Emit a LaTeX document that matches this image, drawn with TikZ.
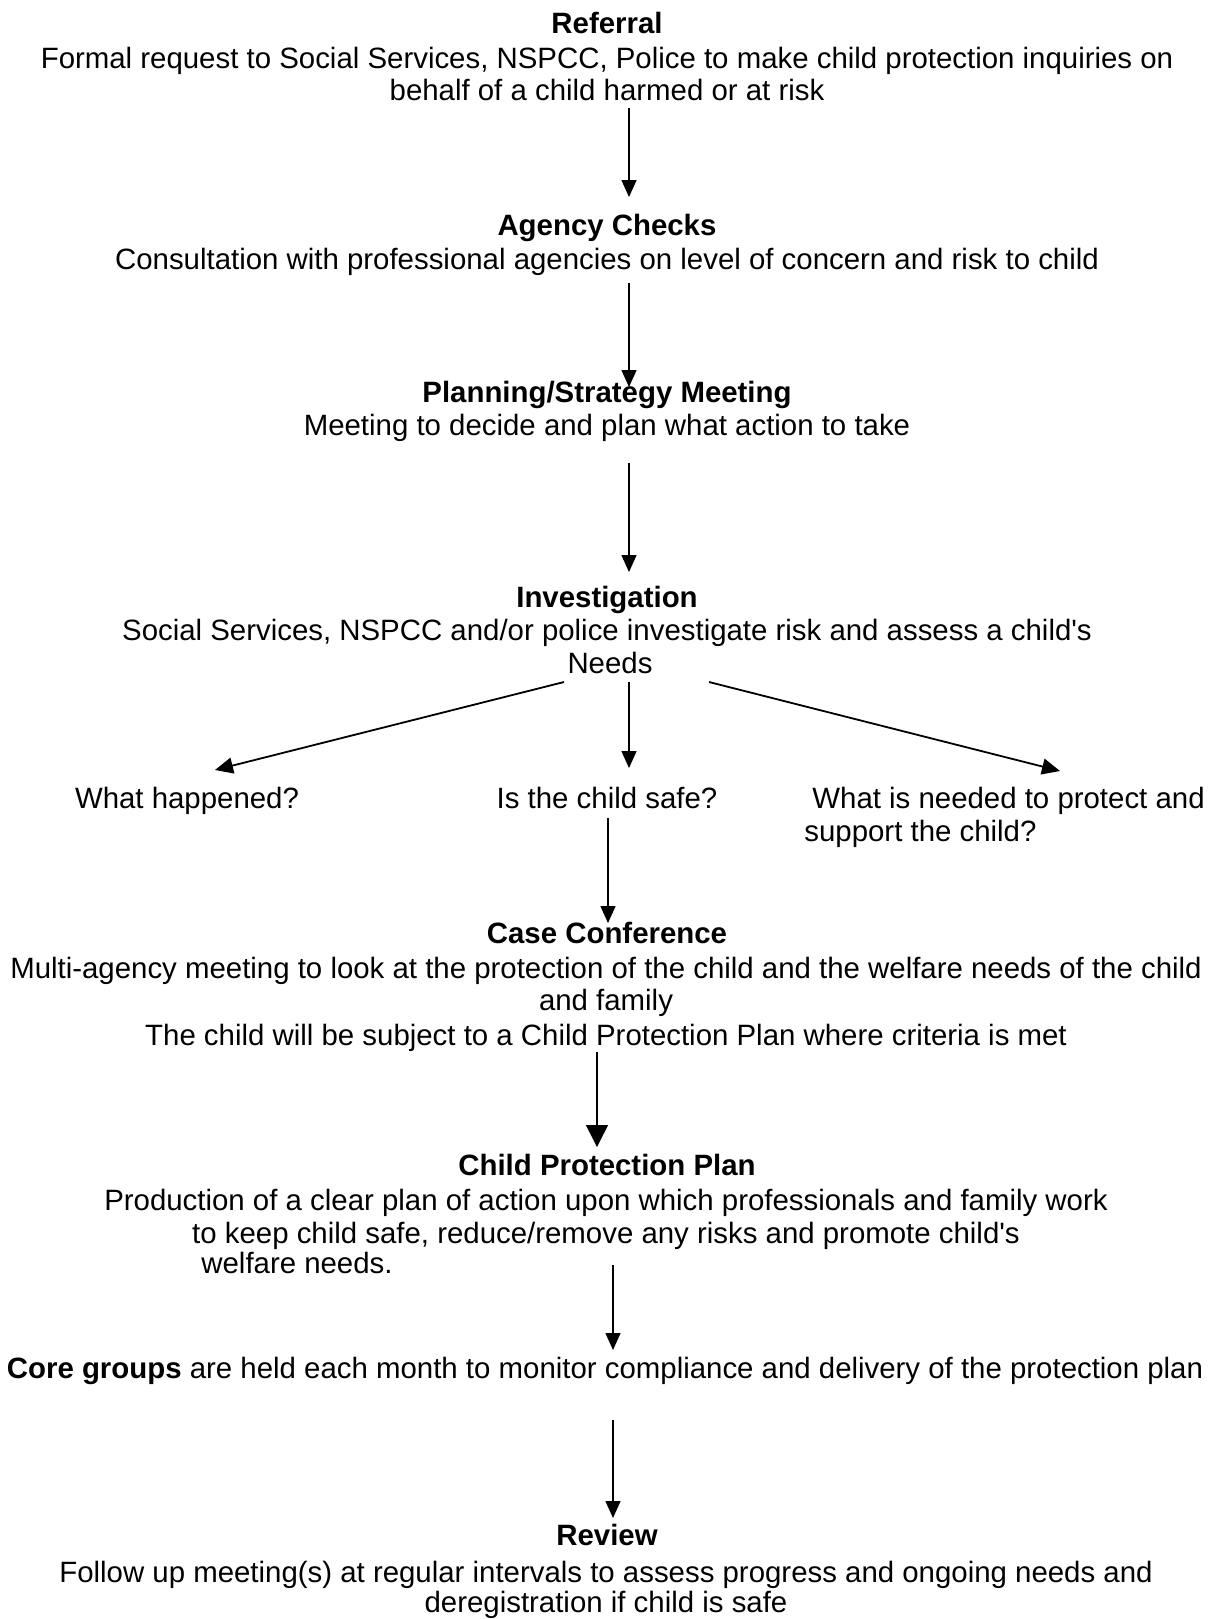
\documentclass[tikz,border=0pt]{standalone}
\usepackage{fontspec}
\setmainfont{Liberation Sans}[Ligatures=TeXOff]
\usetikzlibrary{arrows.meta,calc}
\begin{document}
\begin{tikzpicture}[x=0.5pt,y=-0.5pt,
  txt/.style={anchor=base,inner sep=0pt,font=\fontsize{14.7pt}{16pt}\selectfont},
  ttl/.style={txt,font=\fontsize{14.7pt}{16pt}\selectfont\bfseries},
  ltxt/.style={txt,anchor=base west},
  arr/.style={line width=0.75pt,-{Triangle[length=8.5pt,width=7.5pt]}},
  darr/.style={line width=0.9pt,-{Triangle[length=9pt,width=8pt]}},
  bigarr/.style={line width=0.75pt,-{Triangle[length=11pt,width=11pt]}}]
\useasboundingbox[fill=white] (0,0) rectangle (1215,1619);
% Referral
\node[ttl] (reft) at (607,33) {Referral};
\node[txt] (ref1) at (607,68) {Formal request to Social Services, NSPCC, Police to make child protection inquiries on};
\node[txt] (ref2) at (607,100) {behalf of a child harmed or at risk};
% Agency checks
\node[ttl] (agt) at (607,235) {Agency Checks};
\node[txt] (ag1) at (607,269) {Consultation with professional agencies on level of concern and risk to child};
% Planning
\node[ttl] (plt) at (607,402) {Planning/Strategy Meeting};
\node[txt] (pl1) at (607,435) {Meeting to decide and plan what action to take};
% Investigation
\node[ttl] (invt) at (607,607) {Investigation};
\node[txt] (inv1) at (607,640) {Social Services, NSPCC and/or police investigate risk and assess a child's};
\node[txt] (inv2) at (610,673) {Needs};
% Questions
\node[txt] (q1) at (187,808) {What happened?};
\node[txt] (q2) at (607,808) {Is the child safe?};
\node[ltxt] (q3a) at (812,808) {What is needed to protect and};
\node[ltxt] (q3b) at (804,841) {support the child?};
% Case conference
\node[ttl] (cct) at (607,943) {Case Conference};
\node[txt] (cc1) at (606,978) {Multi-agency meeting to look at the protection of the child and the welfare needs of the child};
\node[txt] (cc2) at (606,1010) {and family};
\node[txt] (cc3) at (606,1045) {The child will be subject to a Child Protection Plan where criteria is met};
% Child protection plan
\node[ttl] (cpt) at (607,1175) {Child Protection Plan};
\node[txt] (cp1) at (606,1210) {Production of a clear plan of action upon which professionals and family work};
\node[txt] (cp2) at (606,1243) {to keep child safe, reduce/remove any risks and promote child's};
\node[ltxt] (cp3) at (201,1273) {welfare needs.};
% Core groups
\node[txt] (core) at (605,1378) {\textbf{Core groups} are held each month to monitor compliance and delivery of the protection plan};
% Review
\node[ttl] (revt) at (607,1545) {Review};
\node[txt] (rev1) at (606,1582) {Follow up meeting(s) at regular intervals to assess progress and ongoing needs and};
\node[txt] (rev2) at (606,1612) {deregistration if child is safe};
% Arrows
\draw[arr] ($(ref2.base)+(22,8)$) -- ($(agt.base)+(22,-38)$);
\draw[arr] ($(ag1.base)+(22,14)$) -- ($(plt.base)+(22,-15)$);
\draw[arr] ($(pl1.base)+(22,28)$) -- ($(invt.base)+(22,-35)$);
\draw[darr] ($(inv2.base)+(-46,9)$) -- ($(q1.base)+(28,-38)$);
\draw[arr] ($(inv2.base)+(19,9)$) -- ($(q2.base)+(22,-40)$);
\draw[darr] ($(inv2.base)+(99,9)$) -- ($(q3a.base west)+(248,-37)$);
\draw[arr] ($(q2.base)+(1,10)$) -- ($(cct.base)+(1,-20)$);
\draw[bigarr] ($(cc3.base)+(-9,7)$) -- ($(cpt.base)+(-10,-28)$);
\draw[arr] ($(cp2.base)+(7,22)$) -- ($(core.base)+(8,-28)$);
\draw[arr] ($(core.base)+(8,42)$) -- ($(revt.base)+(6,-27)$);
\end{tikzpicture}
\end{document}
